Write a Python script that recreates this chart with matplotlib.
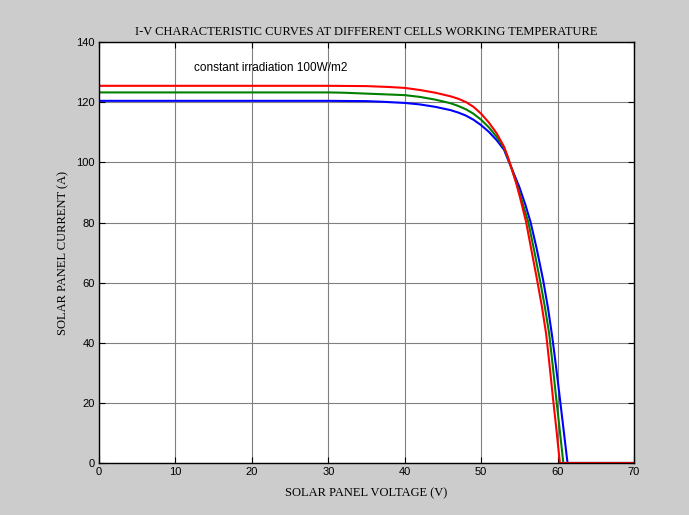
import matplotlib
matplotlib.use("Agg")
import matplotlib.pyplot as plt

# I-V curves (voltage in V, current in A)
v_blue = [0, 30, 35, 37, 40, 42, 44, 46, 47, 48, 49, 50, 51, 52, 53, 53.5, 54, 55, 55.8, 56.45, 57.25, 58.1, 58.75, 59.3, 59.8, 60.3, 60.8, 61.3, 70]
i_blue = [120.5, 120.5, 120.4, 120.2, 119.8, 119.3, 118.5, 117.4, 116.6, 115.6, 114.2, 112.4, 110.2, 107.5, 104.2, 101.0, 98.0, 91.8, 85.8, 80.3, 71.5, 61.0, 51.5, 42.0, 32.0, 21.5, 10.7, 0, 0]

v_green = [0, 30, 32, 35, 38, 40, 42, 44, 46, 47, 48, 49, 50, 51, 52, 53, 53.5, 54, 54.6, 55.4, 56.16, 56.95, 57.72, 58.33, 58.9, 59.36, 59.82, 60.28, 60.75, 70]
i_green = [123.3, 123.3, 123.2, 122.9, 122.6, 122.4, 121.8, 120.9, 119.7, 118.8, 117.7, 116.2, 114.2, 111.7, 108.6, 104.8, 101.5, 97.9, 93.3, 86.6, 80.2, 70.5, 60.5, 52.0, 43.0, 32.5, 21.5, 11.0, 0, 0]

v_red = [0, 30, 35, 38, 40, 42, 44, 46, 47, 48, 49, 50, 51, 52, 53, 53.5, 54, 54.6, 55.2, 55.87, 56.6, 57.35, 57.95, 58.5, 58.95, 59.4, 59.85, 60.3, 70]
i_red = [125.5, 125.5, 125.4, 125.1, 124.8, 124.1, 123.2, 122.0, 121.2, 120.1, 118.5, 116.2, 113.3, 109.8, 105.2, 101.8, 97.8, 93.0, 87.2, 80.3, 70.5, 60.5, 52.0, 43.0, 32.5, 21.5, 11.0, 0, 0]

x_ticks = [0, 10, 20, 30, 40, 50, 60, 70]
y_ticks = [0, 20, 40, 60, 80, 100, 120, 140]

fig = plt.figure(figsize=(6.89, 5.15), dpi=100, facecolor="#cccccc")
ax = fig.add_axes([0.1437, 0.101, 0.7765, 0.817])
ax.set_facecolor("white")

ax.plot(v_blue, i_blue, color="#0000ff", lw=1.5)
ax.plot(v_green, i_green, color="#008000", lw=1.5)
ax.plot(v_red, i_red, color="#ff0000", lw=1.5)

ax.set_xlim(0, 70)
ax.set_ylim(0, 140)
ax.set_xticks(x_ticks)
ax.set_yticks(y_ticks)
ax.grid(True, color="#808080", lw=0.8, ls="-")
ax.tick_params(direction="in", top=True, right=True, length=4, width=0.8,
               labelsize=8, pad=3)
for lab in ax.get_xticklabels() + ax.get_yticklabels():
    lab.set_fontfamily("Liberation Sans")
for s in ax.spines.values():
    s.set_linewidth(1.0)
    s.set_color("black")

serif = "Liberation Serif"
ax.set_title("I-V CHARACTERISTIC CURVES AT DIFFERENT CELLS WORKING TEMPERATURE",
             fontsize=9, fontfamily=serif, pad=5)
ax.set_xlabel("SOLAR PANEL VOLTAGE (V)", fontsize=9, fontfamily=serif, labelpad=7)
ax.set_ylabel("SOLAR PANEL CURRENT (A)", fontsize=9, fontfamily=serif, labelpad=5)

ax.text(12.4, 131.3, "constant irradiation 100W/m2", fontsize=8.5,
        fontfamily="Liberation Sans", va="center")

fig.savefig("out.png", dpi=100, facecolor=fig.get_facecolor())
